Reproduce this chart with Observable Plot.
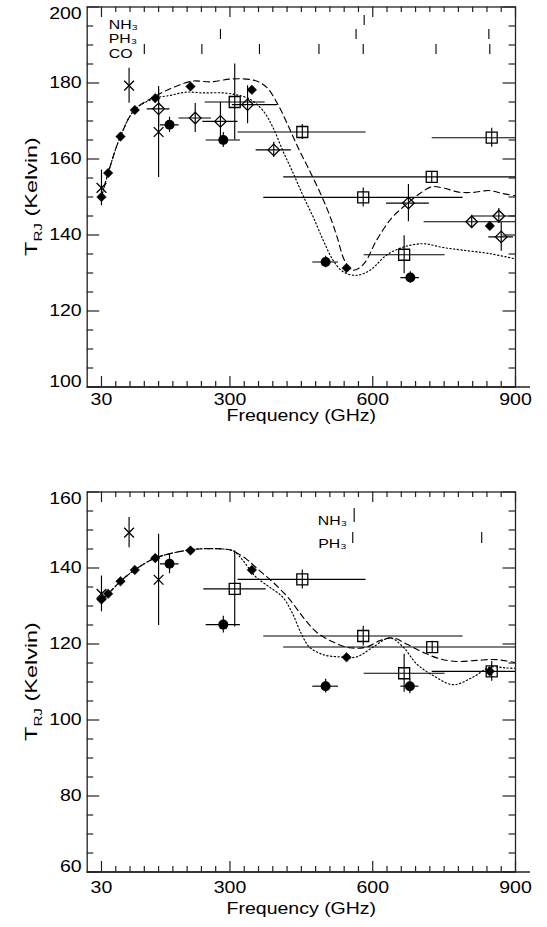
<!DOCTYPE html>
<html>
<head>
<meta charset="utf-8">
<script src="https://cdn.jsdelivr.net/npm/d3@7"></script>
<script src="https://cdn.jsdelivr.net/npm/@observablehq/plot@0.6"></script>
<style>
  body { margin: 0; background: #fff; }
  #chart { width: 547px; }
  #chart svg { display: block; }
</style>
</head>
<body>
<div id="chart"></div>
<script>
// ---------------- axis ticks ----------------
const xMajorTicks = [30, 300, 600, 900];
const xMinorTicks = [60, 90, 120, 150, 180, 210, 240, 270, 330, 360, 390, 420, 450, 480, 510, 540, 570,
                     630, 660, 690, 720, 750, 780, 810, 840, 870];
const topYMajor = [100, 120, 140, 160, 180, 200];
const botYMajor = [60, 80, 100, 120, 140, 160];

// ---------------- TOP PANEL ----------------
// filled diamonds
const topDiaF = [30, 44, 70, 100, 143, 217, 346, 545, 846];
const topDiaT = [150.0, 156.3, 165.9, 172.9, 176.0, 179.1, 178.2, 131.3, 142.4];
// crosses (x) with vertical error
const topXF = [30, 88, 150];
const topXT = [152.4, 179.3, 167.1];
const topXErr = [4.7, 4.6, 12];
// open diamonds with bandwidth + error
const topODF = [150, 227, 280, 337, 392, 675, 808, 865, 870];
const topODT = [173.2, 170.8, 169.9, 174.3, 162.4, 148.4, 143.5, 145.0, 139.5];
const topODErr = [5, 3.8, 5, 5, 2, 4.9, 1.7, 2, 3.8];
const topODLo = [126, 193, 243, 305, 355, 629, 708, 808, 844];
const topODHi = [174, 261, 317, 400, 429, 719, 908, 922, 896];
// filled circles
const topCirF = [173, 286, 501, 679];
const topCirT = [169.0, 165.0, 132.9, 128.8];
const topCirErr = [2, 2, 1.5, 1.5];
const topCirLo = [154, 250, 474, 659];
const topCirHi = [193, 322, 528, 698];
// open squares
const topSqF = [310, 452, 580, 666, 724, 850];
const topSqT = [175.0, 167.1, 149.9, 134.8, 155.3, 165.6];
const topSqErr = [10, 2, 2.5, 5, 1.5, 2.5];
const topSqLo = [248, 317, 371, 582, 413, 725];
const topSqHi = [374, 586, 790, 752, 1035, 975];
// model curves
const topDashF = [30, 44, 70, 100, 143, 180, 222, 260, 306, 348, 365, 380, 404, 425, 445, 465, 490, 510, 525, 540,
                  555, 570, 585, 608, 640, 670, 700, 725, 750, 780, 810, 845, 870, 900];
const topDashT = [150, 156.3, 166, 173, 176.5, 178.8, 180.5, 180.3, 181.1, 180.8, 180, 178.5, 173.6, 168, 162.5, 157.5,
                  151, 145, 139.5, 133.5, 130.8, 131.2, 133, 138.6, 144.5, 148, 151, 152.7, 152.3, 151.3, 151.2, 151.7, 151, 150.3];
const topDotF = [30, 44, 70, 100, 143, 173, 208, 243, 285, 313, 341, 369, 390, 411, 432, 453, 475, 496, 517, 538,
                 566, 594, 629, 664, 706, 748, 790, 846, 900];
const topDotT = [150, 156.3, 166, 173, 176, 176.7, 177.6, 177.4, 177.4, 176.9, 175.8, 172.8, 168.4, 162.2, 156.5,
                 150.5, 144.7, 138.6, 133.3, 130.3, 129.4, 130.7, 134.7, 136.8, 137.7, 136.7, 136, 135.1, 133.7];
// spectral lines
const topNH3 = [582];
const topPH3 = [280, 565, 844];
const topCO = [120, 241, 362, 487, 580, 733, 846];

// ---------------- BOTTOM PANEL ----------------
const botDiaF = [30, 44, 70, 100, 143, 217, 346, 545, 846];
const botDiaT = [131.7, 133.2, 136.5, 139.5, 142.6, 144.6, 139.5, 116.5, 112.8];
const botXF = [30, 88, 150];
const botXT = [133.2, 149.3, 136.9];
const botXErr = [4.7, 4, 12];
const botCirF = [173, 286, 501, 678];
const botCirT = [141.1, 125.1, 108.9, 108.9];
const botCirErr = [2.6, 2.2, 1.8, 2];
const botCirLo = [154, 250, 474, 659];
const botCirHi = [193, 322, 528, 697];
const botSqF = [310, 452, 580, 666, 725, 850];
const botSqT = [134.5, 137.0, 122.1, 112.3, 119.2, 112.8];
const botSqErr = [10, 2.5, 2.6, 5, 1.5, 2.6];
const botSqLo = [245, 317, 371, 582, 413, 725];
const botSqHi = [376, 586, 790, 752, 1035, 975];
const botDashF = [30, 44, 70, 100, 143, 217, 264, 299, 310, 334, 362, 390, 425, 454, 482, 517, 552, 587, 615, 643,
                  671, 706, 741, 776, 818, 860, 900];
const botDashT = [131.7, 133.2, 136.5, 139.5, 142.6, 144.8, 145.1, 144.8, 144.3, 142.4, 139.3, 136.3, 131.8, 127, 123.1,
                  120.5, 119, 119.2, 120.9, 121.6, 120, 117.8, 116.1, 115.4, 115.7, 115.9, 115.1];
const botDotF = [30, 44, 70, 100, 143, 217, 264, 299, 310, 327, 355, 383, 411, 430, 450, 467, 496, 531, 566, 601,
                 636, 664, 692, 727, 769, 811, 846, 881, 900];
const botDotT = [131.7, 133.2, 136.5, 139.5, 142.6, 144.8, 145.1, 144.8, 144.3, 142, 137.6, 135, 132.3, 128.4, 122.7,
                 119.2, 117.2, 116.6, 116.6, 119.2, 121.6, 119.2, 114.8, 111.7, 109.3, 111.3, 113.9, 113.7, 113.6];
const botNH3 = [561];
const botPH3 = [558, 829];

// ---------------- helpers ----------------
const W = 547, ML = 86.7, MR = 32;
const FONT = "'Liberation Sans', Arial, Helvetica, sans-serif";
const INK = "#000";
const STRETCH = 1.22; // the reference lettering is wide

function zip(keys, ...cols) {
  return cols[0].map((_, i) => Object.fromEntries(keys.map((k, j) => [k, cols[j][i]])));
}
function withErr(rows) {
  return rows.map(d => ({...d, t1: d.t - d.e, t2: d.t + d.e}));
}

function makePanel(cfg) {
  const {height, mt, mb, yDom, yMajor, dia, xs, cir, sq, od, dash, dot, lineRows, lineLabels,
         tickPad, titleDy} = cfg;
  const ph = height - mt - mb;
  const pw = W - ML - MR;
  const yMinor = d3.range(yDom[0], yDom[1] + 0.1, 5).filter(v => !yMajor.includes(v));
  const s = {stroke: INK, strokeWidth: 1.15};
  const marks = [];

  // model curves
  marks.push(Plot.line(dash, {x: "f", y: "t", curve: "catmull-rom", ...s, strokeDasharray: "6,4", clip: true}));
  marks.push(Plot.line(dot, {x: "f", y: "t", curve: "catmull-rom", ...s, strokeDasharray: "1.3,2.4", clip: true}));

  // error bars
  const bars = [...xs, ...cir, ...sq, ...od];
  marks.push(Plot.ruleX(bars, {x: "f", y1: "t1", y2: "t2", ...s, clip: true}));
  const hb = [...cir, ...sq, ...od];
  marks.push(Plot.ruleY(hb, {y: "t", x1: "lo", x2: "hi", ...s, clip: true}));

  // symbols
  marks.push(Plot.dot(dia, {x: "f", y: "t", symbol: "diamond2", r: 4.3, fill: INK, stroke: INK, strokeWidth: 0.5}));
  marks.push(Plot.dot(xs, {x: "f", y: "t", symbol: "times", r: 4.5, stroke: INK, strokeWidth: 1.3}));
  marks.push(Plot.dot(cir, {x: "f", y: "t", r: 5, fill: INK}));
  marks.push(Plot.dot(sq, {x: "f", y: "t", symbol: "square2", r: 7, stroke: INK, fill: "none", strokeWidth: 1.3}));
  if (od.length) marks.push(Plot.dot(od, {x: "f", y: "t", symbol: "diamond2", r: 5.2, stroke: INK, fill: "none", strokeWidth: 1.3}));

  // spectral line markers
  for (const r of lineRows) {
    marks.push(Plot.tickX(r.data, {x: d => d, insetTop: r.top, insetBottom: ph - r.bottom, stroke: INK, strokeWidth: 1.1}));
  }
  for (const l of lineLabels) marks.push(Plot.text([l.text], l.opts));

  // frame + extended bottom axis line
  marks.push(Plot.frame({stroke: "#222", strokeWidth: 1.3}));
  marks.push(Plot.ruleY([yDom[0]], {stroke: "#222", strokeWidth: 1.3, insetRight: -15}));

  // inward ticks on all four sides
  const tk = {stroke: "#222", strokeWidth: 1.2};
  marks.push(Plot.tickX(xMajorTicks, {x: d => d, insetTop: ph - 10.5, ...tk}));
  marks.push(Plot.tickX(xMajorTicks, {x: d => d, insetBottom: ph - 10.5, ...tk}));
  marks.push(Plot.tickX(xMinorTicks, {x: d => d, insetTop: ph - 5.5, ...tk}));
  marks.push(Plot.tickX(xMinorTicks, {x: d => d, insetBottom: ph - 5.5, ...tk}));
  marks.push(Plot.tickY(yMajor, {y: d => d, insetRight: pw - 12.5, ...tk}));
  marks.push(Plot.tickY(yMajor, {y: d => d, insetLeft: pw - 12.5, ...tk}));
  marks.push(Plot.tickY(yMinor, {y: d => d, insetRight: pw - 6.5, ...tk}));
  marks.push(Plot.tickY(yMinor, {y: d => d, insetLeft: pw - 6.5, ...tk}));

  // tick labels (end labels nudged inward as in the reference)
  const inner = yMajor.slice(1, -1);
  marks.push(Plot.axisX(xMajorTicks, {tickSize: 0, tickPadding: tickPad, label: null, fontSize: 16}));
  marks.push(Plot.axisY(inner, {tickSize: 0, tickPadding: 5.5, label: null, fontSize: 16}));
  marks.push(Plot.axisY([yMajor[0]], {tickSize: 0, tickPadding: 5.5, label: null, fontSize: 16, dy: -5}));
  marks.push(Plot.axisY([yMajor[yMajor.length - 1]], {tickSize: 0, tickPadding: 5.5, label: null, fontSize: 16, dy: 6.5}));
  marks.push(Plot.text(["Frequency (GHz)"], {frameAnchor: "bottom", dy: titleDy, fontSize: 16}));

  const svg = Plot.plot({
    width: W, height,
    marginTop: mt, marginBottom: mb, marginLeft: ML, marginRight: MR,
    x: {domain: [0, 900]},
    y: {domain: yDom},
    style: {fontFamily: FONT, fontSize: "15px", color: INK, background: "#fff", overflow: "visible"},
    marks
  });

  // widen all lettering around its own anchor point
  d3.select(svg).selectAll("text").each(function () {
    const tr = this.getAttribute("transform") || "";
    const x = +this.getAttribute("x") || 0;
    if (this.hasAttribute("x")) this.removeAttribute("x");
    this.setAttribute("transform", `${tr} translate(${x},0) scale(${STRETCH},1)`);
  });

  // y-axis title with subscript
  const cy = mt + ph / 2;
  const t = d3.select(svg).append("text")
    .attr("transform", `translate(37,${cy}) rotate(-90) scale(1.38,1)`)
    .attr("text-anchor", "middle")
    .attr("font-family", FONT)
    .attr("font-size", 17)
    .attr("fill", INK);
  t.append("tspan").text("T");
  t.append("tspan").attr("font-size", 11).attr("dy", 4.5).text("RJ");
  t.append("tspan").attr("dy", -4.5).text(" (Kelvin)");
  return svg;
}

// ---------------- build tables ----------------
const K = ["f", "t"];
const E5 = ["f", "t", "e", "lo", "hi"];
const tables = {
  top: {
    dia: zip(K, topDiaF, topDiaT),
    xs: withErr(zip(["f", "t", "e"], topXF, topXT, topXErr)),
    od: withErr(zip(E5, topODF, topODT, topODErr, topODLo, topODHi)),
    cir: withErr(zip(E5, topCirF, topCirT, topCirErr, topCirLo, topCirHi)),
    sq: withErr(zip(E5, topSqF, topSqT, topSqErr, topSqLo, topSqHi)),
    dash: zip(K, topDashF, topDashT),
    dot: zip(K, topDotF, topDotT)
  },
  bot: {
    dia: zip(K, botDiaF, botDiaT),
    xs: withErr(zip(["f", "t", "e"], botXF, botXT, botXErr)),
    od: [],
    cir: withErr(zip(E5, botCirF, botCirT, botCirErr, botCirLo, botCirHi)),
    sq: withErr(zip(E5, botSqF, botSqT, botSqErr, botSqLo, botSqHi)),
    dash: zip(K, botDashF, botDashT),
    dot: zip(K, botDotF, botDotT)
  }
};

const topSvg = makePanel({
  height: 463, mt: 6.5, mb: 76.5, yDom: [100, 200], yMajor: topYMajor,
  tickPad: 7, titleDy: 34,
  ...tables.top,
  lineRows: [
    {data: topNH3, top: 8.5, bottom: 18.5},
    {data: topPH3, top: 22.5, bottom: 32.5},
    {data: topCO, top: 37.5, bottom: 47.5}
  ],
  lineLabels: [
    {text: "NH₃", opts: {frameAnchor: "top-left", dx: 21.5, dy: 13, textAnchor: "start", fontSize: 13}},
    {text: "PH₃", opts: {frameAnchor: "top-left", dx: 21.5, dy: 27, textAnchor: "start", fontSize: 13}},
    {text: "CO", opts: {frameAnchor: "top-left", dx: 21.5, dy: 42, textAnchor: "start", fontSize: 13}}
  ]
});

const botSvg = makePanel({
  height: 464, mt: 28.5, mb: 55.5, yDom: [60, 160], yMajor: botYMajor,
  tickPad: 10, titleDy: 42,
  ...tables.bot,
  lineRows: [
    {data: botNH3, top: 16.5, bottom: 30.5},
    {data: botPH3, top: 40.5, bottom: 51.5}
  ],
  lineLabels: [
    {text: "NH₃", opts: {x: botNH3, frameAnchor: "top", dy: 23.5, dx: -7, textAnchor: "end", fontSize: 13}},
    {text: "PH₃", opts: {x: [botPH3[0]], frameAnchor: "top", dy: 46.5, dx: -6, textAnchor: "end", fontSize: 13}}
  ]
});

const chart = document.getElementById("chart");
chart.appendChild(topSvg);
chart.appendChild(botSvg);
</script>
</body>
</html>
